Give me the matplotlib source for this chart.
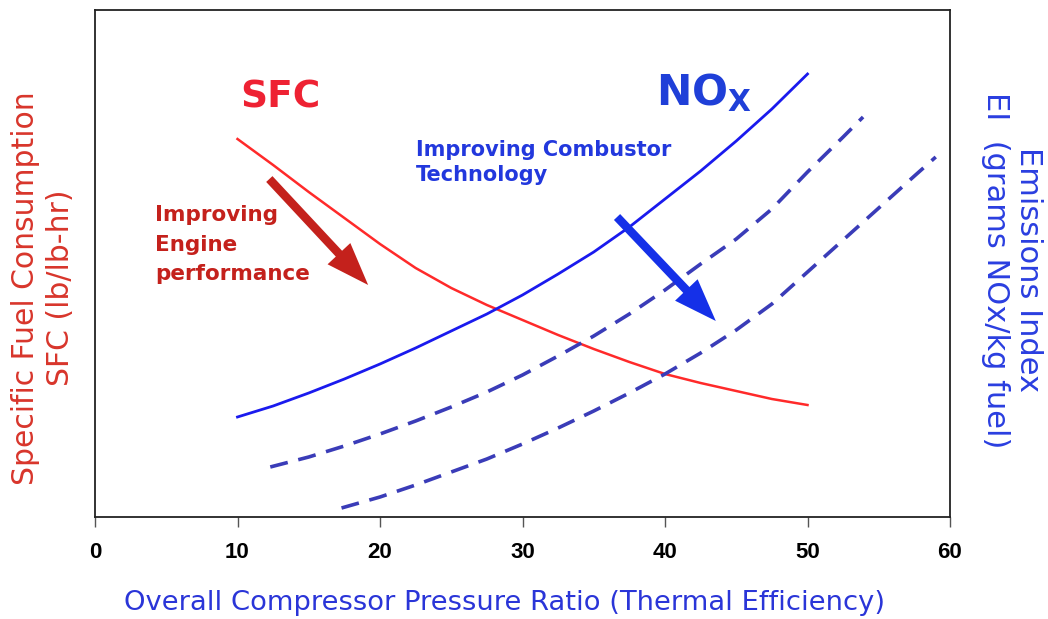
import matplotlib
matplotlib.use("Agg")
import matplotlib.pyplot as plt

# pressure ratio (x) and curve heights (arbitrary units)
sfc_x = [10, 12.5, 15, 17.5, 20, 22.5, 25, 27.5, 30, 32.5, 35, 37.5, 40,
         42.5, 45, 47.5, 50]
sfc_y = [378, 352, 325, 299, 273, 249, 229, 212, 197, 182, 168, 155, 143,
         134, 126, 118, 112]

nox_x = [10, 12.5, 15, 17.5, 20, 22.5, 25, 27.5, 30, 32.5, 35, 37.5, 40,
         42.5, 45, 47.5, 50]
nox_y = [100, 111, 124, 138, 153, 169, 186, 203, 222, 243, 265, 290, 318,
         346, 376, 408, 443]

nox_d1_x = [12.3, 15, 17.5, 20, 22.5, 25, 27.5, 30, 32.5, 35, 37.5, 40,
            42.5, 45, 47.5, 50, 52.5, 53.9]
nox_d1_y = [50, 60, 71, 83, 96, 110, 125, 142, 161, 181, 203, 227,
            253, 278, 308, 345, 380, 400]

nox_d2_x = [17.3, 20, 22.5, 25, 27.5, 30, 32.5, 35, 37.5, 40, 42.5, 45,
            47.5, 50, 52.5, 55, 57.5, 59]
nox_d2_y = [9, 20, 32, 45, 58, 73, 89, 106, 124, 143, 164, 187,
            213, 245, 277, 309, 341, 360]

xticks = [0, 10, 20, 30, 40, 50, 60]

RED = "#ff2a2a"
DARKRED = "#c4211c"
BLUE = "#1a1aee"
DASHBLUE = "#3a3cb8"
TXTBLUE = "#2238dd"

fig = plt.figure(figsize=(10.48, 6.19), dpi=100)
ax = fig.add_axes([95 / 1048, 1 - 517 / 619, 855 / 1048, 507 / 619])

ax.plot(sfc_x, sfc_y, color=RED, lw=1.8)
ax.plot(nox_x, nox_y, color=BLUE, lw=2.0)
ax.plot(nox_d1_x, nox_d1_y, color=DASHBLUE, lw=2.6, linestyle=(0, (5, 3)))
ax.plot(nox_d2_x, nox_d2_y, color=DASHBLUE, lw=2.6, linestyle=(0, (5, 3)))

ax.set_xlim(0, 60)
ax.set_ylim(0, 507)
ax.set_xticks(xticks)
ax.set_yticks([])
ax.tick_params(axis="x", direction="out", length=7, width=1, color="#555555",
               pad=11)
for lab in ax.get_xticklabels():
    lab.set_fontfamily("Liberation Sans")
    lab.set_fontweight("bold")
    lab.set_fontsize(16)
for sp in ax.spines.values():
    sp.set_linewidth(1.3)
    sp.set_color("#222222")

# arrows
arrow_kw = "simple, tail_width=0.22, head_width=0.8, head_length=1.1"
ax.annotate("", xy=(19.3, 230), xytext=(12.1, 340),
            arrowprops=dict(arrowstyle=arrow_kw, mutation_scale=28,
                            color=DARKRED, lw=0))
ax.annotate("", xy=(43.7, 194), xytext=(36.5, 302),
            arrowprops=dict(arrowstyle=arrow_kw, mutation_scale=28,
                            color="#1530e8", lw=0))

# text labels
ax.text(10.2, 409, "SFC", color="#ee2233", fontsize=27, fontweight="bold",
        va="baseline", ha="left")
ax.text(39.4, 412, r"NO$_{\mathbf{X}}$", color="#1f3fd8", fontsize=30.5,
        fontweight="bold", va="baseline", ha="left")
ax.text(22.5, 377, "Improving Combustor\nTechnology", color=TXTBLUE,
        fontsize=15, fontweight="bold", va="top", ha="left", linespacing=1.3)
ax.text(4.2, 312, "Improving\nEngine\nperformance", color=DARKRED,
        fontsize=15.5, fontweight="bold", va="top", ha="left", linespacing=1.6)

fig.text(43 / 1048, 1 - 288 / 619, "Specific Fuel Consumption\nSFC (lb/lb-hr)",
         rotation=90, color="#d8352b", fontsize=21.5, ha="center", va="center",
         linespacing=1.25)
fig.text(1012 / 1048, 1 - 270 / 619, "Emissions Index\nEI  (grams NOx/kg fuel)",
         rotation=270, color="#2a3ee0", fontsize=22, ha="center", va="center",
         linespacing=1.2)
fig.text(505 / 1048, 1 - 603 / 619,
         "Overall Compressor Pressure Ratio (Thermal Efficiency)",
         color="#2a35d8", fontsize=19.7, ha="center", va="center")

fig.savefig("out.png", dpi=100)
